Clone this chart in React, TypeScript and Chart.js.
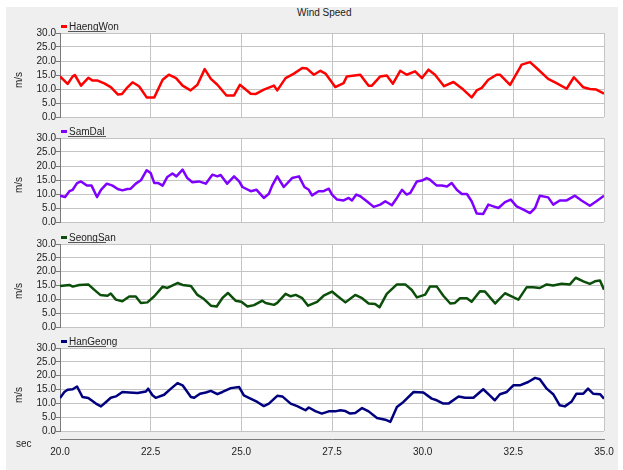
import React, { useEffect, useRef } from "react";
import { Chart, registerables } from "chart.js";

Chart.register(...registerables);

const TITLE = "Wind Speed";
const X_UNIT = "sec";
const Y_UNIT = "m/s";
const X_MIN = 20;
const X_MAX = 35;
const X_STEP = 2.5;
const Y_MIN = 0;
const Y_MAX = 30;
const Y_STEP = 5;

const haengWonTime = [20.0, 20.21, 20.35, 20.41, 20.58, 20.78, 20.9, 21.04, 21.22, 21.4, 21.6, 21.71, 21.86, 22.0, 22.18, 22.39, 22.6, 22.83, 23.0, 23.2, 23.38, 23.6, 23.79, 23.99, 24.16, 24.34, 24.59, 24.8, 24.96, 25.12, 25.26, 25.39, 25.62, 25.9, 25.99, 26.22, 26.45, 26.68, 26.81, 27.0, 27.18, 27.32, 27.59, 27.82, 27.91, 28.28, 28.51, 28.6, 28.83, 29.01, 29.18, 29.38, 29.56, 29.79, 29.98, 30.16, 30.34, 30.59, 30.85, 31.12, 31.35, 31.49, 31.63, 31.81, 32.04, 32.13, 32.41, 32.73, 32.96, 33.14, 33.46, 33.69, 33.97, 34.17, 34.43, 34.61, 34.79, 35.0];
const haengWonSpeed = [14.5, 11.8, 14.5, 15.0, 11.2, 14.0, 13.0, 13.0, 12.0, 10.7, 8.0, 8.2, 10.6, 12.4, 11.0, 7.0, 7.0, 13.3, 15.1, 13.9, 11.2, 9.5, 11.5, 17.1, 13.6, 11.5, 7.7, 7.7, 11.5, 9.8, 8.3, 8.2, 9.8, 11.2, 9.5, 13.9, 15.5, 17.5, 17.3, 15.1, 16.5, 15.5, 10.7, 12.1, 14.5, 15.1, 11.2, 11.2, 14.5, 14.8, 11.9, 16.5, 15.1, 16.3, 13.9, 16.9, 15.1, 11.0, 12.5, 9.8, 7.0, 9.5, 10.4, 13.3, 15.1, 15.1, 11.5, 18.7, 19.6, 17.5, 13.6, 12.1, 10.1, 14.2, 10.6, 10.0, 9.8, 8.3];

const samDalTime = [20.0, 20.14, 20.26, 20.35, 20.47, 20.58, 20.74, 20.87, 21.02, 21.13, 21.29, 21.45, 21.59, 21.72, 21.86, 21.95, 22.09, 22.23, 22.39, 22.5, 22.6, 22.71, 22.83, 22.96, 23.1, 23.21, 23.38, 23.51, 23.65, 23.83, 24.02, 24.2, 24.34, 24.43, 24.61, 24.8, 24.94, 25.03, 25.26, 25.42, 25.62, 25.76, 25.85, 25.99, 26.17, 26.4, 26.59, 26.74, 26.86, 26.95, 27.13, 27.27, 27.41, 27.5, 27.64, 27.82, 27.96, 28.05, 28.17, 28.28, 28.46, 28.65, 28.83, 28.97, 29.15, 29.29, 29.43, 29.56, 29.66, 29.84, 29.98, 30.11, 30.2, 30.39, 30.53, 30.67, 30.8, 30.94, 31.08, 31.22, 31.35, 31.49, 31.67, 31.81, 31.95, 32.09, 32.27, 32.43, 32.59, 32.78, 32.96, 33.1, 33.23, 33.46, 33.6, 33.78, 33.97, 34.2, 34.38, 34.61, 34.79, 35.0];
const samDalSpeed = [9.4, 8.9, 11.0, 11.5, 13.9, 14.5, 13.0, 13.0, 8.9, 11.5, 13.7, 13.0, 11.8, 11.3, 11.8, 11.9, 13.7, 14.9, 18.5, 17.5, 13.9, 13.9, 13.0, 16.1, 17.3, 16.3, 18.7, 15.7, 14.2, 14.5, 13.7, 16.9, 16.3, 16.8, 13.7, 16.3, 14.5, 12.5, 11.0, 11.5, 8.6, 10.1, 13.0, 16.3, 12.5, 15.7, 16.3, 12.5, 11.5, 9.5, 11.0, 11.0, 11.9, 9.8, 8.0, 7.7, 8.6, 7.7, 9.8, 9.2, 7.4, 5.4, 6.2, 7.4, 6.0, 8.6, 11.5, 9.8, 10.4, 14.5, 14.8, 15.7, 15.1, 13.0, 13.0, 12.7, 13.9, 11.5, 10.0, 10.0, 7.4, 3.0, 2.9, 6.2, 5.6, 5.0, 7.1, 8.0, 5.6, 4.4, 3.2, 5.0, 9.4, 8.8, 6.2, 7.7, 7.7, 9.4, 7.7, 5.8, 7.4, 9.4];

const seongSanTime = [20.0, 20.26, 20.35, 20.53, 20.78, 20.94, 21.11, 21.31, 21.4, 21.54, 21.72, 21.91, 22.09, 22.23, 22.41, 22.6, 22.83, 22.96, 23.24, 23.38, 23.61, 23.79, 23.97, 24.16, 24.32, 24.48, 24.63, 24.84, 25.0, 25.17, 25.35, 25.58, 25.67, 25.9, 25.99, 26.22, 26.36, 26.5, 26.68, 26.84, 27.09, 27.27, 27.5, 27.64, 27.87, 28.14, 28.33, 28.51, 28.69, 28.81, 29.01, 29.29, 29.52, 29.7, 29.84, 30.07, 30.2, 30.39, 30.57, 30.76, 30.89, 31.03, 31.22, 31.35, 31.58, 31.72, 32.0, 32.27, 32.45, 32.64, 32.87, 33.05, 33.23, 33.42, 33.6, 33.83, 34.06, 34.22, 34.43, 34.61, 34.75, 34.89, 35.0];
const seongSanSpeed = [14.8, 15.2, 14.6, 15.2, 15.4, 13.5, 11.6, 11.3, 12.1, 9.9, 9.3, 11.0, 11.0, 8.7, 8.9, 11.1, 14.6, 14.1, 15.9, 15.2, 14.8, 11.6, 10.1, 7.7, 7.4, 10.5, 12.3, 9.5, 9.1, 7.4, 7.9, 9.5, 8.7, 8.0, 8.7, 12.0, 11.1, 11.6, 10.4, 7.7, 9.1, 11.3, 12.8, 11.3, 8.9, 11.6, 10.4, 8.5, 8.3, 7.1, 12.0, 15.4, 15.4, 13.4, 10.7, 11.7, 14.6, 14.6, 11.3, 8.5, 8.7, 10.4, 10.4, 9.1, 12.9, 12.8, 8.5, 12.2, 11.1, 9.9, 14.4, 14.4, 14.1, 15.4, 15.0, 15.6, 15.4, 17.8, 16.5, 15.6, 16.5, 16.8, 13.5];

const hanGeongTime = [20.0, 20.12, 20.21, 20.35, 20.47, 20.62, 20.78, 20.99, 21.13, 21.27, 21.4, 21.54, 21.72, 21.91, 22.14, 22.37, 22.43, 22.55, 22.64, 22.87, 23.06, 23.24, 23.38, 23.61, 23.7, 23.86, 24.02, 24.16, 24.34, 24.48, 24.71, 24.94, 25.07, 25.21, 25.44, 25.62, 25.76, 25.99, 26.13, 26.36, 26.54, 26.77, 26.86, 27.04, 27.22, 27.41, 27.59, 27.73, 27.87, 28.0, 28.14, 28.33, 28.51, 28.74, 28.97, 29.11, 29.29, 29.47, 29.75, 30.02, 30.25, 30.39, 30.57, 30.71, 30.99, 31.17, 31.4, 31.67, 31.85, 31.99, 32.13, 32.32, 32.5, 32.68, 32.91, 33.1, 33.23, 33.42, 33.6, 33.78, 33.92, 34.11, 34.24, 34.43, 34.56, 34.7, 34.89, 35.0];
const hanGeongSpeed = [11.9, 14.1, 14.9, 15.1, 16.1, 12.3, 11.9, 9.9, 8.9, 10.5, 12.0, 12.5, 14.1, 13.9, 13.7, 14.3, 15.3, 12.9, 12.0, 13.1, 15.3, 17.3, 16.5, 12.3, 12.0, 13.5, 13.9, 14.5, 13.3, 14.1, 15.5, 15.9, 12.9, 12.0, 10.5, 9.0, 9.9, 12.7, 12.5, 9.9, 9.0, 7.5, 8.5, 7.2, 6.3, 7.1, 7.1, 7.5, 7.2, 6.3, 6.5, 8.3, 7.1, 4.7, 4.1, 3.3, 8.7, 10.5, 14.1, 13.9, 11.7, 11.1, 9.9, 9.9, 12.5, 12.0, 12.0, 15.1, 12.9, 11.1, 13.3, 14.1, 16.5, 16.5, 17.7, 19.2, 18.7, 15.3, 13.3, 9.3, 8.9, 10.7, 13.5, 13.5, 15.3, 13.5, 13.3, 11.7];

const seriesNames = ["HaengWon", "SamDal", "SeongSan", "HanGeong"];
const seriesColors = ["#ff0000", "#8000ff", "#0b4f0b", "#00007f"];
const seriesTimes = [haengWonTime, samDalTime, seongSanTime, hanGeongTime];
const seriesSpeeds = [haengWonSpeed, samDalSpeed, seongSanSpeed, hanGeongSpeed];

const FONT = "'Liberation Sans', Arial, Helvetica, sans-serif";
const TEXT = "#222";
const GRID = "#c4c4c4";
const AXIS = "#7a7a7a";

// layout (pixels)
const PLOT_LEFT = 60;
const PLOT_RIGHT = 604;
const PLOT_TOPS = [33, 138, 244, 348];
const PLOT_HEIGHTS = [84, 84, 83, 83];
const PAD = 10;

const plotBg = {
  id: "plotBg",
  beforeDraw(chart: any) {
    const { ctx, chartArea } = chart;
    ctx.save();
    ctx.fillStyle = "#ffffff";
    ctx.fillRect(chartArea.left, chartArea.top, chartArea.right - chartArea.left, chartArea.bottom - chartArea.top);
    ctx.restore();
  },
};

function Panel({ idx, showX }: { idx: number; showX: boolean }) {
  const ref = useRef<HTMLCanvasElement | null>(null);
  const plotTop = PLOT_TOPS[idx];
  const plotH = PLOT_HEIGHTS[idx];
  const canvasH = showX ? PAD + plotH + 8 + 24 : PAD + plotH + PAD;

  useEffect(() => {
    if (!ref.current) return;
    const times = seriesTimes[idx];
    const speeds = seriesSpeeds[idx];
    const scales: any = {
      x: {
        type: "linear",
        position: "bottom",
        weight: 0,
        min: X_MIN,
        max: X_MAX,
        ticks: { display: false, stepSize: X_STEP, autoSkip: false },
        grid: { color: GRID, drawTicks: false },
        border: { display: false },
        afterFit(s: any) {
          s.height = showX ? 8 : 0;
        },
      },
      y: {
        type: "linear",
        min: Y_MIN,
        max: Y_MAX,
        ticks: {
          stepSize: Y_STEP,
          autoSkip: false,
          padding: 0,
          color: TEXT,
          font: { family: FONT, size: 10 },
          callback: (v: any) => Number(v).toFixed(1),
        },
        grid: { color: GRID, tickLength: 4, tickColor: AXIS },
        border: { display: true, color: AXIS },
        afterFit(s: any) {
          s.width = PLOT_LEFT;
        },
      },
    };
    if (showX) {
      scales.x2 = {
        type: "linear",
        position: "bottom",
        weight: 1,
        min: X_MIN,
        max: X_MAX,
        ticks: {
          stepSize: X_STEP,
          padding: 7,
          color: TEXT,
          maxRotation: 0,
          autoSkip: false,
          font: { family: FONT, size: 10 },
          callback: (v: any) => Number(v).toFixed(1),
        },
        grid: { display: true, drawOnChartArea: false, drawTicks: false, color: AXIS },
        border: { display: true, color: AXIS },
        afterFit(s: any) {
          s.height = 24;
        },
      };
    }
    const chart = new Chart(ref.current, {
      type: "line",
      data: {
        datasets: [
          {
            label: seriesNames[idx],
            data: times.map((t, i) => ({ x: t, y: speeds[i] })),
            borderColor: seriesColors[idx],
            backgroundColor: seriesColors[idx],
            borderWidth: 2.5,
            pointRadius: 0,
            tension: 0,
            fill: false,
            borderJoinStyle: "round",
          },
        ],
      },
      options: {
        responsive: false,
        animation: false,
        layout: { padding: { top: PAD, bottom: showX ? 0 : PAD, left: 0, right: 623 - PLOT_RIGHT } },
        plugins: { legend: { display: false }, tooltip: { enabled: false }, title: { display: false } },
        scales,
      },
      plugins: [plotBg],
    } as any);
    return () => chart.destroy();
  }, [idx, showX]);

  return (
    <canvas
      ref={ref}
      width={623}
      height={canvasH}
      style={{ position: "absolute", left: 0, top: plotTop - PAD, width: 623, height: canvasH }}
    />
  );
}

export default function App() {
  const textStyle: React.CSSProperties = {
    position: "absolute",
    fontFamily: FONT,
    fontSize: 10,
    lineHeight: "12px",
    color: TEXT,
    whiteSpace: "nowrap",
  };
  return (
    <div style={{ position: "absolute", left: 0, top: 0, width: 623, height: 470, background: "#ffffff", overflow: "hidden" }}>
      <div style={{ position: "absolute", left: 6, top: 7, width: 612, height: 463, background: "#efefef" }} />
      <div style={{ ...textStyle, left: 297, top: 7 }}>{TITLE}</div>
      {PLOT_TOPS.map((_, i) => (
        <Panel key={"p" + i} idx={i} showX={i === PLOT_TOPS.length - 1} />
      ))}
      {PLOT_TOPS.map((t, i) => (
        <React.Fragment key={"l" + i}>
          <div style={{ position: "absolute", left: 61, top: t - 8, width: 6, height: 3, background: seriesColors[i] }} />
          <div style={{ ...textStyle, left: 69, top: t - 12.5 }}>{seriesNames[i]}</div>
          <div style={{ position: "absolute", left: 68, top: t - 2, width: 38, height: 1, background: "#555" }} />
          <div
            style={{
              ...textStyle,
              left: 19,
              top: t + PLOT_HEIGHTS[i] / 2 + 5,
              transform: "translate(-50%, -50%) rotate(-90deg)",
            }}
          >
            {Y_UNIT}
          </div>
        </React.Fragment>
      ))}
      <div style={{ ...textStyle, left: 16, top: 438 }}>{X_UNIT}</div>
    </div>
  );
}
